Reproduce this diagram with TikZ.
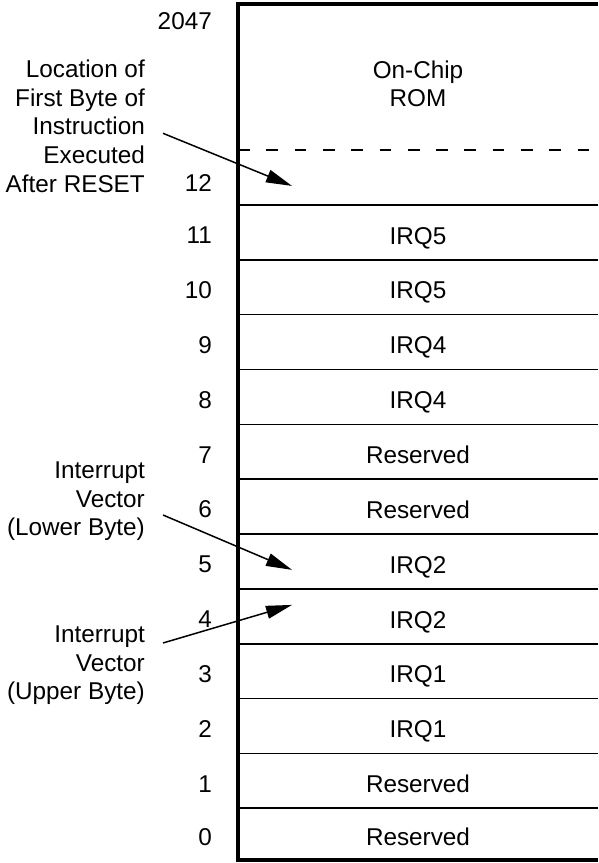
\documentclass[tikz,border=0pt]{standalone}
\usepackage{fontspec}
\setmainfont{Liberation Sans}
\usetikzlibrary{
	arrows.meta,
	positioning
}
\tikzset{
%Define standard arrow tip
>={Triangle[length=26pt,width=13pt]},
%Define style for memory cells
cell/.style={
	rectangle,
	inner sep=0pt,
	outer sep=0pt,
	minimum width=360pt,
	minimum height=54.85pt,
	text height=23.4pt,
	text depth=0pt,
	text centered},
%Define style for addresses
addr/.style={
	inner sep=0pt,
	yshift=-3pt},
%Define style for side notes
note/.style={
	inner sep=0pt,
	align=right,
	anchor=east},
% Define line styles
frame/.style={
	line width=3.2pt},
rowline/.style={
	line width=1.6pt},
romline/.style={
	line width=1.8pt,
	dash pattern=on 11.7pt off 16.6pt},
pil/.style={
	->,
	line width=1.5pt}
}

\begin{document}
\begin{tikzpicture}[x=1pt,y=1pt]
				\tikzstyle{every node}=[font=\fontsize{24.3}{28.6}\selectfont]
				\useasboundingbox (0,0) rectangle (598,863);
				% memory rows, bottom up
				\node[cell, minimum height=51.7pt] (r0) at (418,28.85) {Reserved};
				\node[cell, above=0pt of r0] (r1) {Reserved};
				\node[cell, above=0pt of r1] (r2) {IRQ1};
				\node[cell, above=0pt of r2] (r3) {IRQ1};
				\node[cell, above=0pt of r3] (r4) {IRQ2};
				\node[cell, above=0pt of r4] (r5) {IRQ2};
				\node[cell, above=0pt of r5] (r6) {Reserved};
				\node[cell, above=0pt of r6] (r7) {Reserved};
				\node[cell, above=0pt of r7] (r8) {IRQ4};
				\node[cell, above=0pt of r8] (r9) {IRQ4};
				\node[cell, above=0pt of r9] (r10) {IRQ5};
				\node[cell, above=0pt of r10] (r11) {IRQ5};
				\node[cell, above=0pt of r11] (r12) {};
				\node[inner sep=0pt, align=center, above=43pt of r12] (rom) {On-Chip\\ROM};
				% addresses
				\node[addr, left=26pt of r0.west] (a0) {0};
				\node[addr, left=26pt of r1.west] (a1) {1};
				\node[addr, left=26pt of r2.west] (a2) {2};
				\node[addr, left=26pt of r3.west] (a3) {3};
				\node[addr, left=26pt of r4.west] (a4) {4};
				\node[addr, left=26pt of r5.west] (a5) {5};
				\node[addr, left=26pt of r6.west] (a6) {6};
				\node[addr, left=26pt of r7.west] (a7) {7};
				\node[addr, left=26pt of r8.west] (a8) {8};
				\node[addr, left=26pt of r9.west] (a9) {9};
				\node[addr, left=26pt of r10.west] (a10) {10};
				\node[addr, left=26pt of r11.west] (a11) {11};
				\node[addr, left=26pt of r12.west, yshift=-2pt] (a12) {12};
				\coordinate (tl) at (238,859);
				\coordinate (tr) at (598,859);
				\node[addr, below left=5pt and 26pt of tl] (a2047) {2047};
				% frame and row lines
				\draw[frame] (tr) -- (tl) |- (r0.south east);
				\foreach \n in {0,...,11}
					\draw[rowline] (r\n.north west) -- (r\n.north east);
				\draw[romline] (r12.north west) -- (r12.north east);
				% notes
				\node[note] (reset) at (145,736.7) {Location of\\First Byte of\\Instruction\\Executed\\After RESET};
				\node[note] (lower) at (145,361.5) {Interrupt\\Vector\\(Lower Byte)};
				\node[note] (upper) at (145,197.5) {Interrupt\\Vector\\(Upper Byte)};
				\draw[pil] ([xshift=18pt,yshift=-7pt]reset.east) -- ([xshift=54pt,yshift=-8.4pt]r12.west);
				\draw[pil] ([xshift=18pt,yshift=-13.5pt]lower.east) -- ([xshift=54pt,yshift=-8.4pt]r5.west);
				\draw[pil] ([xshift=18pt,yshift=22.5pt]upper.east) -- ([xshift=54pt,yshift=11.4pt]r4.west);
			\end{tikzpicture}
\end{document}
